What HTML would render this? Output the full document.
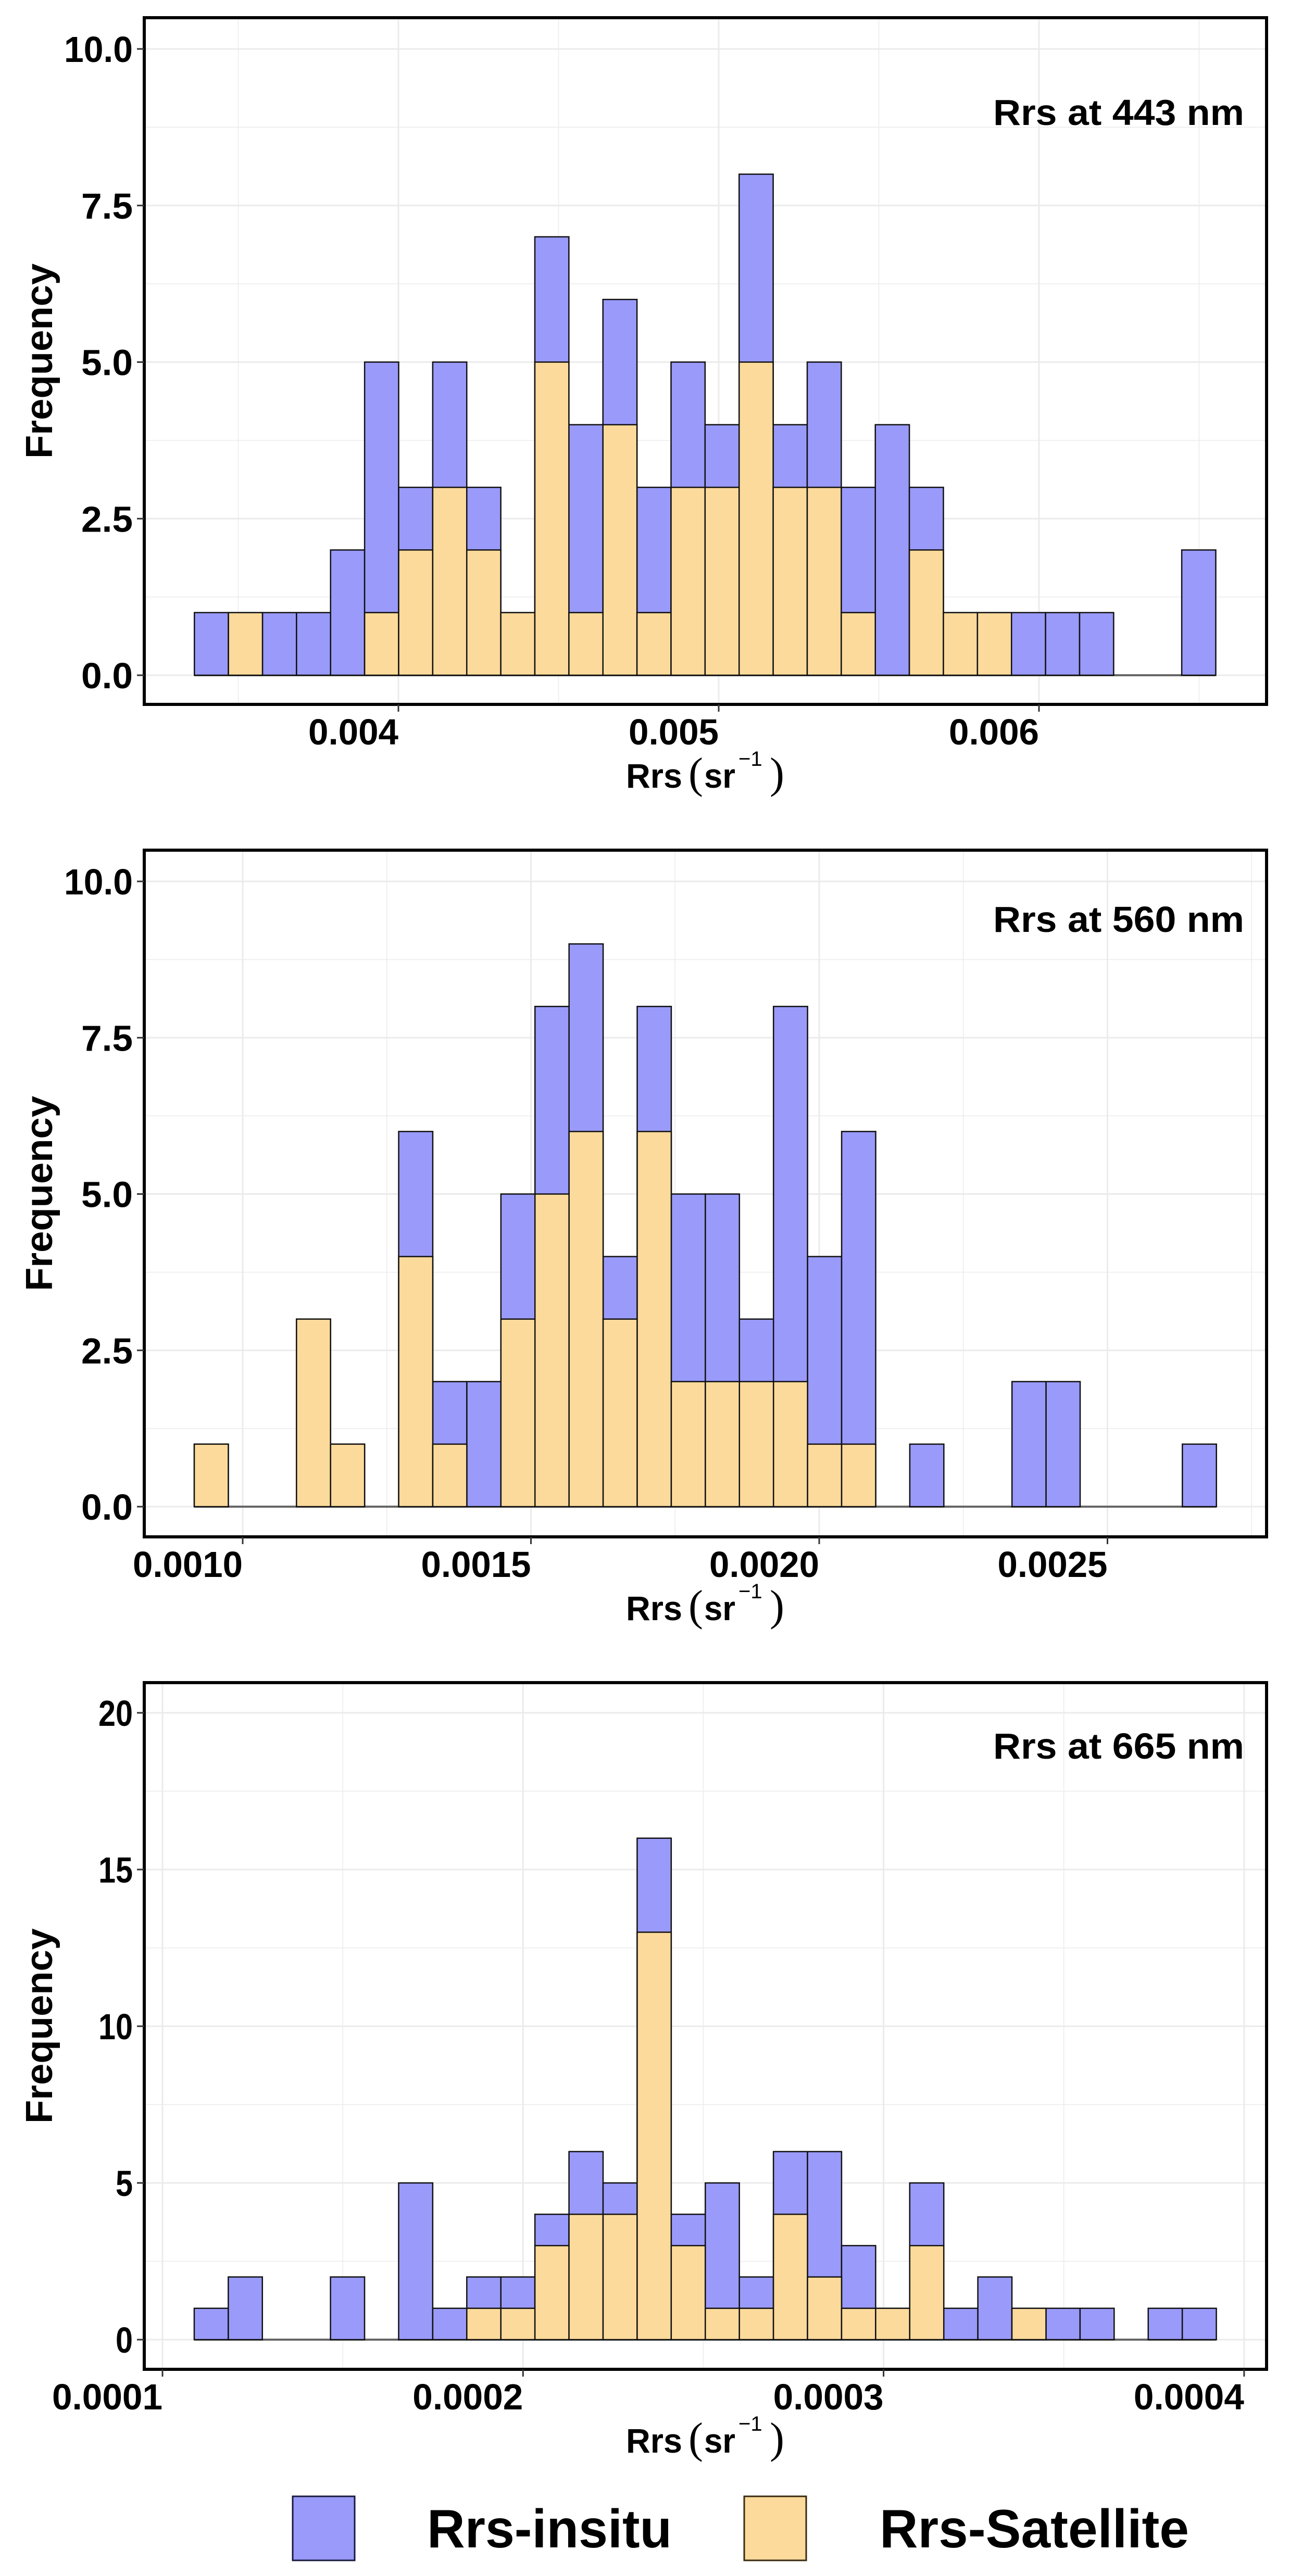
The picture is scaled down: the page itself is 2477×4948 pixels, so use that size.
<!DOCTYPE html>
<html><head><meta charset="utf-8">
<style>
html,body{margin:0;padding:0;background:#fff;}
svg{display:block;}
text{font-family:"Liberation Sans Narrow","Liberation Sans",Arial,sans-serif;font-weight:bold;fill:#000;}
</style></head>
<body>
<svg id="chart" xmlns="http://www.w3.org/2000/svg" width="2477" height="4948" viewBox="0 0 2477 4948">
<rect x="0" y="0" width="2477" height="4948" fill="#fff"/>
<g id="panels"></g>
<g>
  <rect x="562" y="4795" width="119" height="123" fill="#9a9afa" stroke="#1a1a40" stroke-width="3"/>
  <text x="820" y="4893" font-size="104" textLength="470" lengthAdjust="spacingAndGlyphs">Rrs-insitu</text>
  <rect x="1429" y="4795" width="119" height="123" fill="#fcda9b" stroke="#3a2a10" stroke-width="3"/>
  <text x="1689" y="4893" font-size="104" textLength="594" lengthAdjust="spacingAndGlyphs">Rrs-Satellite</text>
</g>
</svg>
<script>
// ---- data ----
const p1Insitu    = [1,1,1,1,2,5,3,5,3,1,7,4,6,3,5,4,8,4,5,3,4,3,1,1,1,1,1,0,0,2];
const p1Satellite = [0,1,0,0,0,1,2,3,2,1,5,1,4,1,3,3,5,3,3,1,0,2,1,1,0,0,0,0,0,0];
const p1BinStart = 0.003363, p1BinWidth = 0.0001063;
const p1YTicks = [0,2.5,5,7.5,10];
const p1YTickLabels = ['0.0','2.5','5.0','7.5','10.0'];
const p1XTicks = [0.004,0.005,0.006];
const p1XTickLabels = ['0.004','0.005','0.006'];
const p1XMinor = [0.0035,0.0045,0.0055,0.0065];

const p2Insitu    = [1,0,0,3,1,0,6,2,2,5,8,9,4,8,5,5,3,8,4,6,0,1,0,0,2,2,0,0,0,1];
const p2Satellite = [1,0,0,3,1,0,4,1,0,3,5,6,3,6,2,2,2,2,1,1,0,0,0,0,0,0,0,0,0,0];
const p2BinStart = 0.000916, p2BinWidth = 0.0000591;
const p2YTicks = [0,2.5,5,7.5,10];
const p2YTickLabels = ['0.0','2.5','5.0','7.5','10.0'];
const p2XTicks = [0.0010,0.0015,0.0020,0.0025];
const p2XTickLabels = ['0.0010','0.0015','0.0020','0.0025'];
const p2XMinor = [0.00125,0.00175,0.00225,0.00275];

const p3Insitu    = [1,2,0,0,2,0,5,1,2,2,4,6,5,16,4,5,2,6,6,3,1,5,1,2,1,1,1,0,1,1];
const p3Satellite = [0,0,0,0,0,0,0,0,1,1,3,4,4,13,3,1,1,4,2,1,1,3,0,0,1,0,0,0,0,0];
const p3BinStart = 0.0001088, p3BinWidth = 0.00000945;
const p3YTicks = [0,5,10,15,20];
const p3YTickLabels = ['0','5','10','15','20'];
const p3XTicks = [0.0001,0.0002,0.0003,0.0004];
const p3XTickLabels = ['0.0001','0.0002','0.0003','0.0004'];
const p3XMinor = [0.00015,0.00025,0.00035];

// ---- layout (pixels) ----
const layouts = [
  {name:'443', title:'Rrs at 443 nm', left:277,right:2432,top:34,bottom:1353, x0:0.004,x0px:765,xPer:615000, y0px:1297,yTopVal:10,yTopPx:94, yMinorStep:1.25,
   insitu:p1Insitu, sat:p1Satellite, bs:p1BinStart, bw:p1BinWidth, yt:p1YTicks, ytl:p1YTickLabels, xt:p1XTicks, xtl:p1XTickLabels, xm:p1XMinor, xlW:173, titleY:240},
  {name:'560', title:'Rrs at 560 nm', left:277,right:2432,top:1633,bottom:2952, x0:0.001,x0px:466,xPer:1107000, y0px:2894,yTopVal:10,yTopPx:1693, yMinorStep:1.25,
   insitu:p2Insitu, sat:p2Satellite, bs:p2BinStart, bw:p2BinWidth, yt:p2YTicks, ytl:p2YTickLabels, xt:p2XTicks, xtl:p2XTickLabels, xm:p2XMinor, xlW:211, titleY:1790},
  {name:'665', title:'Rrs at 665 nm', left:277,right:2432,top:3232,bottom:4551, x0:0.0001,x0px:312,xPer:6923000, y0px:4494,yTopVal:20,yTopPx:3290, yMinorStep:2.5,
   insitu:p3Insitu, sat:p3Satellite, bs:p3BinStart, bw:p3BinWidth, yt:p3YTicks, ytl:p3YTickLabels, xt:p3XTicks, xtl:p3XTickLabels, xm:p3XMinor, xlW:212, titleY:3378}
];

const NS='http://www.w3.org/2000/svg';
function mk(tag, attrs, parent){
  const e=document.createElementNS(NS,tag);
  for(const k in attrs) e.setAttribute(k, attrs[k]);
  parent.appendChild(e); return e;
}
const root=document.getElementById('panels');

layouts.forEach(function(L){
  const xs=function(v){return L.x0px+(v-L.x0)*L.xPer;};
  const ys=function(v){return L.y0px+(L.yTopPx-L.y0px)*v/L.yTopVal;};
  const g=mk('g',{},root);
  
  
  const yMax=L.yTopVal;
  for(let v=0; v<=yMax+0.01; v+=L.yMinorStep){
    const isMajor = L.yt.some(function(t){return Math.abs(t-v)<1e-9;});
    const ln=mk('line',{x1:L.left,x2:L.right,y1:ys(v),y2:ys(v),stroke:'#ebebeb','stroke-width':isMajor?3:1.5},g);
    
    
  }
  L.xm.forEach(function(v){
    const ln=mk('line',{x1:xs(v),x2:xs(v),y1:L.top,y2:L.bottom,stroke:'#ebebeb','stroke-width':1.5},g);
    
    
  });
  L.xt.forEach(function(v){
    const ln=mk('line',{x1:xs(v),x2:xs(v),y1:L.top,y2:L.bottom,stroke:'#ebebeb','stroke-width':3},g);
    
    
  });
  const n=L.insitu.length;
  const bl=mk('line',{x1:xs(L.bs),x2:xs(L.bs+n*L.bw),y1:ys(0),y2:ys(0),stroke:'#666','stroke-width':4},g);
  
  
  [['insitu',L.insitu,'#9a9afa'],['satellite',L.sat,'#fcda9b']].forEach(function(s){
    s[1].forEach(function(c,i){
      if(c<=0) return;
      const x1=xs(L.bs+i*L.bw), x2=xs(L.bs+(i+1)*L.bw);
      const r=mk('rect',{x:x1,y:ys(c),width:x2-x1,height:ys(0)-ys(c),fill:s[2],stroke:'#111','stroke-width':2.5},g);
      
      
    });
  });
  const bd=mk('rect',{x:L.left,y:L.top,width:L.right-L.left,height:L.bottom-L.top,fill:'none',stroke:'#000','stroke-width':6},g);
  
  
  L.yt.forEach(function(v,i){
    const t=mk('line',{x1:L.left-14,x2:L.left,y1:ys(v),y2:ys(v),stroke:'#333','stroke-width':3},g);
    
    
    const lab=L.ytl[i];
    const w=lab.length*33;
    const tx=mk('text',{x:255,y:ys(v)+25,'font-size':70,'text-anchor':'end',textLength:w,lengthAdjust:'spacingAndGlyphs'},g);
    tx.textContent=lab;
    
    
  });
  L.xt.forEach(function(v,i){
    const t=mk('line',{x1:xs(v),x2:xs(v),y1:L.bottom,y2:L.bottom+14,stroke:'#333','stroke-width':3},g);
    
    
    const tx=mk('text',{x:xs(v),y:L.bottom+77,'font-size':70,'text-anchor':'end',textLength:L.xlW,lengthAdjust:'spacingAndGlyphs'},g);
    tx.textContent=L.xtl[i];
    
    
  });
  const tt=mk('text',{x:2389,y:L.titleY,'font-size':70,'text-anchor':'end',textLength:482,lengthAdjust:'spacingAndGlyphs'},g);
  tt.textContent=L.title;
  
  
  const cy=(L.top+L.bottom)/2;
  const yt=mk('text',{x:0,y:0,'font-size':72,'text-anchor':'middle',textLength:375,lengthAdjust:'spacingAndGlyphs',transform:'translate(100,'+cy+') rotate(-90)',style:'font-family:"Liberation Sans",Arial,sans-serif'},g);
  yt.textContent='Frequency';
  
  
  const by=L.bottom+160;
  const xt=mk('text',{x:1202,y:by,'font-size':66},g);
  
  
  const a=mk('tspan',{textLength:108,lengthAdjust:'spacingAndGlyphs'},xt); a.textContent='Rrs';
  const p1=mk('tspan',{x:1322,'font-size':84,'font-weight':'normal',style:'font-family:\"Liberation Serif\",serif'},xt); p1.textContent='(';
  const b=mk('tspan',{x:1352,textLength:60,lengthAdjust:'spacingAndGlyphs'},xt); b.textContent='sr';
  const c=mk('tspan',{x:1418,dy:-42,'font-size':40,'font-weight':'normal'},xt); c.textContent='\u22121';
  const p2=mk('tspan',{x:1478,dy:42,'font-size':84,'font-weight':'normal',style:'font-family:\"Liberation Serif\",serif'},xt); p2.textContent=')';
});
</script>
</body></html>
